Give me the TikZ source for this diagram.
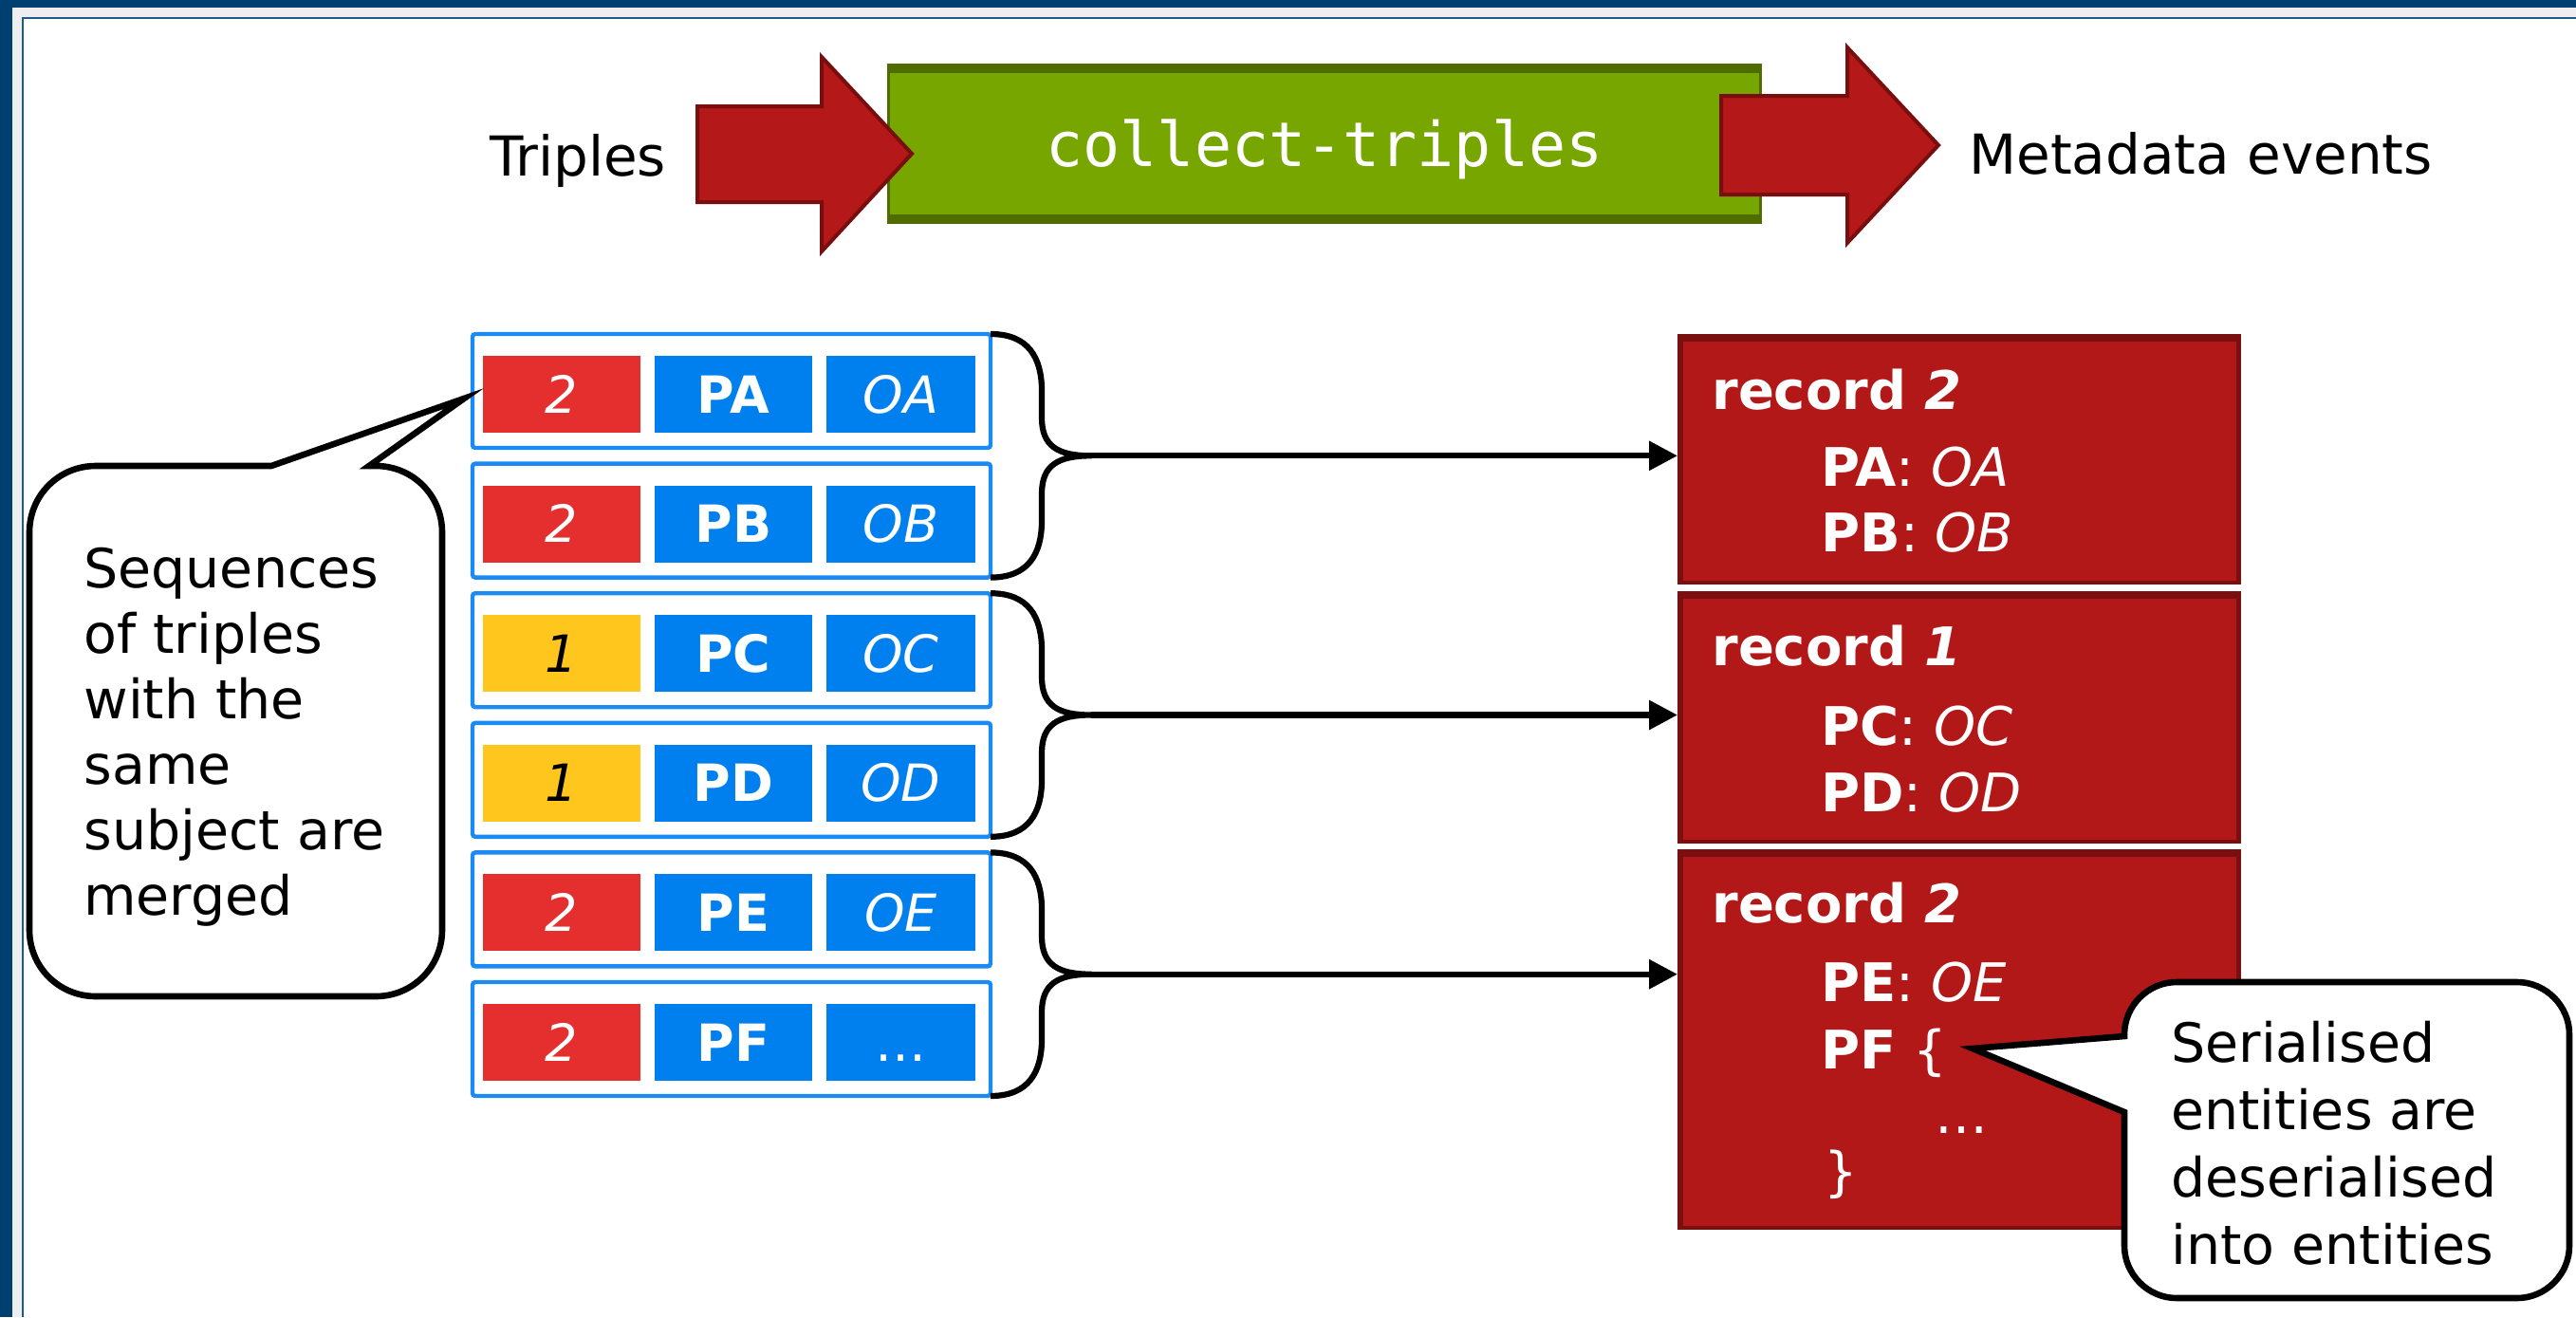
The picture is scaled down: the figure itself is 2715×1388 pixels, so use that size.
\documentclass[tikz,border=0pt]{standalone}
\usepackage{fontspec}
\setmainfont{DejaVu Sans}
\setmonofont{DejaVu Sans Mono}
\usetikzlibrary{arrows.meta,calc}

\definecolor{navy}{RGB}{0,64,112}
\definecolor{framegray}{RGB}{238,238,238}
\definecolor{frameblue}{RGB}{31,90,140}
\definecolor{boxgreen}{RGB}{120,166,0}
\definecolor{boxgreendark}{RGB}{78,108,0}
\definecolor{arrred}{RGB}{180,24,24}
\definecolor{arrdark}{RGB}{120,14,14}
\definecolor{recred}{RGB}{178,24,24}
\definecolor{recdark}{RGB}{122,15,15}
\definecolor{cellred}{RGB}{229,46,46}
\definecolor{cellblue}{RGB}{0,128,239}
\definecolor{cellyellow}{RGB}{255,198,30}
\definecolor{rowblue}{RGB}{26,138,245}

\tikzset{
  rowbox/.style={draw=rowblue, line width=2.2pt, fill=white, rounded corners=1.5pt,
    minimum width=273pt, minimum height=60pt, inner sep=0pt, outer sep=0pt},
  cellbox/.style={minimum height=40.5pt, inner sep=0pt, outer sep=0pt, text=white,
    font=\fontsize{27}{32}\selectfont, text height=19.5pt, text depth=0pt},
  numcell/.style={cellbox, minimum width=83pt},
  pcell/.style={cellbox, fill=cellblue, minimum width=83pt, font=\fontsize{27}{32}\selectfont\bfseries},
  ocell/.style={cellbox, fill=cellblue, minimum width=78.5pt, font=\fontsize{27}{32}\selectfont\itshape},
  recbox/.style={fill=recdark, minimum width=297pt, inner sep=0pt, outer sep=0pt},
  rectext/.style={text=white, font=\fontsize{28}{34}\selectfont, anchor=base west, inner sep=0pt},
  toplabel/.style={font=\fontsize{29}{34}\selectfont, anchor=base west, inner sep=0pt},
  bracestyle/.style={draw=black, line width=3.1pt, line join=round},
  connarrow/.style={draw=black, line width=3.1pt, -{Triangle[length=15pt,width=15pt]}},
  callout/.style={draw=black, fill=white, line width=3.3pt, line join=miter},
  callouttext/.style={anchor=base west, inner sep=0pt, align=left, text=black},
  bigarrow/.style={fill=arrred, draw=arrdark, line width=2pt, line join=miter}
}

\begin{document}
\begin{tikzpicture}[x=0.5pt,y=-0.5pt]
\useasboundingbox (0,0) rectangle (2715,1388);
\fill[white] (0,0) rectangle (2715,1388);
% frame
\fill[navy] (0,0) rectangle (2715,8);
\fill[navy] (0,0) rectangle (13,1388);
\fill[framegray] (13,8) rectangle (2715,18);
\fill[framegray] (13,18) rectangle (23,1388);
\fill[frameblue] (23,18) rectangle (2715,19.5);
\fill[frameblue] (23,18) rectangle (25,1388);

% process box
\node[fill=boxgreendark, minimum width=461pt, minimum height=84.5pt, inner sep=0pt, outer sep=0pt] (proc) at (1396,151.5) {};
\fill[boxgreen] ($(proc.north west)+(3,10)$) rectangle ($(proc.south east)+(-3,-10)$);
\node[font=\fontsize{32.5}{38}\ttfamily, text=white, anchor=base, inner sep=0pt] (proclabel) at (1396,175) {collect-triples};

% big arrows
\draw[bigarrow] (735,112) -- (866,112) -- (866,60) -- (961,162) -- (866,265) -- (866,213) -- (735,213) -- cycle;
\draw[bigarrow] (1814,101) -- (1947,101) -- (1947,50) -- (2043,153) -- (1947,256) -- (1947,205) -- (1814,205) -- cycle;

\node[toplabel] (inlab) at (516,185) {Triples};
\node[toplabel] (outlab) at (2075,183) {Metadata events};

% triple rows
\node[rowbox] (r1) at (771,412) {};
\node[rowbox] (r2) at (771,548.6) {};
\node[rowbox] (r3) at (771,685.2) {};
\node[rowbox] (r4) at (771,821.8) {};
\node[rowbox] (r5) at (771,958.4) {};
\node[rowbox] (r6) at (771,1095) {};

\node[numcell, fill=cellred] (n1) at (592,415.5) {\itshape 2};
\node[pcell] (p1) at (773,415.5) {PA};
\node[ocell] (o1) at (949.5,415.5) {OA};

\node[numcell, fill=cellred] (n2) at (592,552.1) {\itshape 2};
\node[pcell] (p2) at (773,552.1) {PB};
\node[ocell] (o2) at (949.5,552.1) {OB};

\node[numcell, fill=cellyellow, text=black] (n3) at (592,688.7) {\itshape 1};
\node[pcell] (p3) at (773,688.7) {PC};
\node[ocell] (o3) at (949.5,688.7) {OC};

\node[numcell, fill=cellyellow, text=black] (n4) at (592,825.3) {\itshape 1};
\node[pcell] (p4) at (773,825.3) {PD};
\node[ocell] (o4) at (949.5,825.3) {OD};

\node[numcell, fill=cellred] (n5) at (592,961.9) {\itshape 2};
\node[pcell] (p5) at (773,961.9) {PE};
\node[ocell] (o5) at (949.5,961.9) {OE};

\node[numcell, fill=cellred] (n6) at (592,1098.5) {\itshape 2};
\node[pcell] (p6) at (773,1098.5) {PF};
\node[ocell, font=\fontsize{27}{32}\selectfont] (o6) at (949.5,1098.5) {\ldots};

% records
\node[recbox, minimum height=132pt] (rec1) at (2065,484) {};
\node[recbox, minimum height=133pt] (rec2) at (2065,756) {};
\node[recbox, minimum height=200.5pt] (rec3) at (2065,1095.5) {};
\foreach \r in {rec1,rec2,rec3}
  \fill[recred] ($(\r.north west)+(6,8)$) rectangle ($(\r.south east)+(-5,-4)$);

% braces and connectors
\coordinate (c1) at ($(r1.north east)!0.5!(r2.south east)+(106,0)$);
\coordinate (c2) at ($(r3.north east)!0.5!(r4.south east)+(106,0)$);
\coordinate (c3) at ($(r5.north east)!0.5!(r6.south east)+(106,0)$);
\foreach \a/\b/\c in {r1/r2/c1, r3/r4/c2, r5/r6/c3}{
  \draw[bracestyle] (\a.north east) .. controls +(40,0) and +(0,-35) .. ($(\a.north east)+(54,60)$)
    -- ($(\c)+(-52,-40)$) .. controls +(0,30) and +(-35,0) .. (\c)
    .. controls +(-35,0) and +(0,-30) .. ($(\c)+(-52,40)$)
    -- ($(\b.south east)+(54,-60)$) .. controls +(0,35) and +(40,0) .. (\b.south east);
}
\draw[connarrow] (c1) -- (c1 -| rec1.west);
\draw[connarrow] (c2) -- (c2 -| rec2.west);
\draw[connarrow] (c3) -- (c3 -| rec3.west);

% record texts
\node[rectext] (t11) at (1804,431) {\textbf{record \textit{2}}};
\node[rectext] (t12) at (1919,512) {\textbf{PA}: \textit{OA}};
\node[rectext] (t13) at (1919,581) {\textbf{PB}: \textit{OB}};
\node[rectext] (t21) at (1804,701) {\textbf{record \textit{1}}};
\node[rectext] (t22) at (1919,785) {\textbf{PC}: \textit{OC}};
\node[rectext] (t23) at (1919,855) {\textbf{PD}: \textit{OD}};
\node[rectext] (t31) at (1804,972) {\textbf{record \textit{2}}};
\node[rectext] (t32) at (1919,1055) {\textbf{PE}: \textit{OE}};
\node[rectext] (t33) at (1919,1126) {\textbf{PF} \{};
\node[rectext] (t34) at (2039,1194) {\ldots};
\node[rectext] (t35) at (1922,1254) {\}};

% left callout
\coordinate (tipL) at (489,420);
\draw[callout] (286,491) -- (101,491) .. controls (62,491) and (31,522) .. (31,561)
  -- (31,980) .. controls (31,1019) and (62,1050) .. (101,1050)
  -- (396,1050) .. controls (435,1050) and (466,1019) .. (466,980)
  -- (466,561) .. controls (466,522) and (435,491) .. (396,491)
  -- (389,491) -- (tipL) -- cycle;
\node[callouttext, font=\fontsize{28.5}{34.5}\selectfont] (seqtext) at (88,964)
  {Sequences\\of triples\\with the\\same\\subject are\\merged};

% right callout
\coordinate (tipR) at (2079,1105);
\draw[callout] (2294,1035) -- (2653,1035) .. controls (2683,1035) and (2708,1060) .. (2708,1090)
  -- (2708,1313) .. controls (2708,1343) and (2683,1368) .. (2653,1368)
  -- (2294,1368) .. controls (2264,1368) and (2239,1343) .. (2239,1313)
  -- (2239,1172) -- (tipR) -- (2239,1092) -- (2239,1090)
  .. controls (2239,1060) and (2264,1035) .. (2294,1035) -- cycle;
\node[callouttext, font=\fontsize{28.5}{35.5}\selectfont] (sertext) at (2288,1332)
  {Serialised\\entities are\\deserialised\\into entities};
\end{tikzpicture}
\end{document}
